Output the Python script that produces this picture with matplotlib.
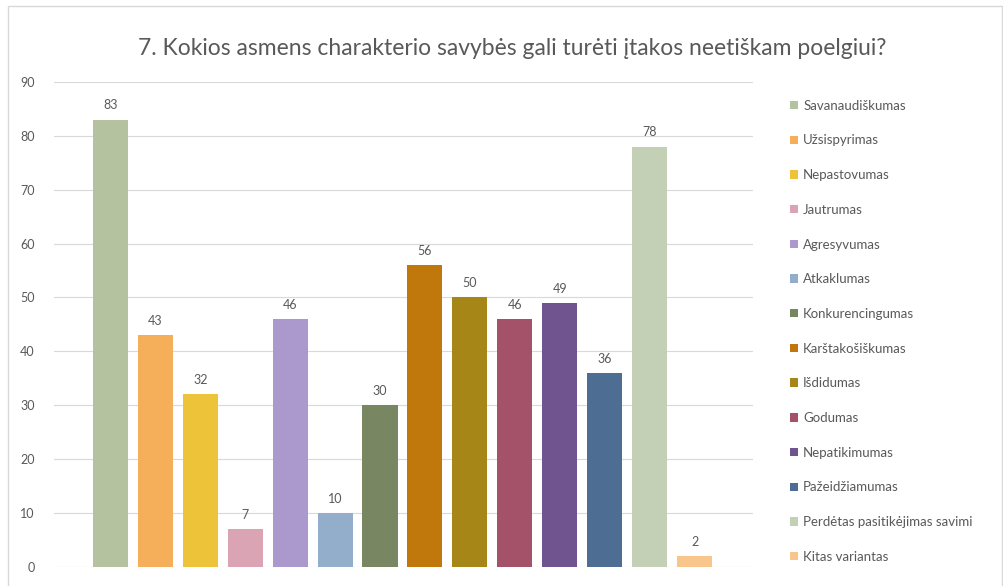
import matplotlib.pyplot as plt
from matplotlib.patches import Patch, Rectangle

plt.rcParams['font.family'] = ['Lato', 'DejaVu Sans']

categories = ['Savanaudiškumas', 'Užsispyrimas', 'Nepastovumas', 'Jautrumas',
              'Agresyvumas', 'Atkaklumas', 'Konkurencingumas', 'Karštakošiškumas',
              'Išdidumas', 'Godumas', 'Nepatikimumas', 'Pažeidžiamumas',
              'Perdėtas pasitikėjimas savimi', 'Kitas variantas']
values = [83, 43, 32, 7, 46, 10, 30, 56, 50, 46, 49, 36, 78, 2]
colors = ['#B4C2A0', '#F5AF5A', '#EDC33A', '#DBA4B4', '#AB99CD', '#92AECB',
          '#788762', '#C0770C', '#A68617', '#A4516A', '#70548F', '#4D6E92',
          '#C4D0B5', '#F8C58A']
yticks = [0, 10, 20, 30, 40, 50, 60, 70, 80, 90]

fig = plt.figure(figsize=(10.04, 5.86), dpi=100)
ax = fig.add_axes([0.054, 0.0324, 0.696, 0.828])

x = list(range(len(values)))
bars = ax.bar(x, values, width=0.78, color=colors, zorder=2)
for xi, v in zip(x, values):
    ax.text(xi, v + 1.5, str(v), ha='center', va='bottom', fontsize=9, color='#595959')

ax.set_xlim(-1.25, 14.3)
ax.set_ylim(0, 90)
ax.set_yticks(yticks)
ax.set_xticks([])
ax.yaxis.grid(True, color='#D9D9D9', linewidth=0.8, zorder=0)
ax.tick_params(axis='y', length=0, labelsize=9, labelcolor='#595959', pad=14)
for s in ax.spines.values():
    s.set_visible(False)

fig.suptitle('7. Kokios asmens charakterio savybės gali turėti įtakos neetiškam poelgiui?',
             x=0.51, y=0.935, fontsize=16.5, color='#595959')

handles = [Patch(facecolor=c, edgecolor='none') for c in colors]
fig.legend(handles, categories, loc='upper left', bbox_to_anchor=(0.775, 0.85),
           frameon=False, fontsize=9.5, labelcolor='#595959', labelspacing=1.72,
           handlelength=0.6, handleheight=0.6, handletextpad=0.4)

fig.patches.append(Rectangle((0.008, -0.01), 0.99, 1.0, transform=fig.transFigure,
                             fill=False, edgecolor='#D9D9D9', linewidth=1))

fig.savefig('out.png', dpi=100)
